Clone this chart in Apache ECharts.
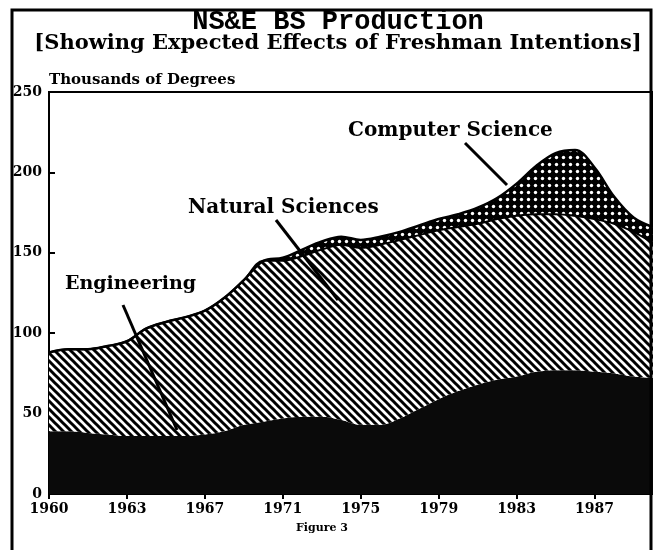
<!DOCTYPE html>
<html>
<head>
<meta charset="utf-8">
<script src="https://cdn.jsdelivr.net/npm/echarts@6/dist/echarts.min.js"></script>
<style>
html, body { margin: 0; padding: 0; background: #fff; }
#main { width: 653px; height: 550px; }
</style>
</head>
<body>
<div id="main"></div>
<script>
// years on the axis (first tick is printed as 1960 in the original)
var years = ['1959','1960','1961','1962','1963','1964','1965','1966','1967','1968','1969',
  '1970','1971','1972','1973','1974','1975','1976','1977','1978','1979','1980',
  '1981','1982','1983','1984','1985','1986','1987','1988','1989','1990'];
var tickLabels = ['1960','1963','1967','1971','1975','1979','1983','1987'];

// thousands of degrees, stacked
var engineering = [39,39,38,37,36,36,36,36,37,39,43,45,47,48,48,46,43,43,47,53,59,64,68,71,73,76,77,77,76,75,73,72];
var naturalSci  = [49,51,52,55,59,67,71,74,77,83,90,100,98,100,104,109,110,112,111,108,105,102,100,100,100,98,97,96,95,93,90,84];
var computerSci = [0,0,0,0,0,0,0,0,0,0,0,0,2,4,5,5,5,5,5,6,7,8,10,13,20,30,38,41,32,17,9,10];

// fill patterns
function hatch() {
  var c = document.createElement('canvas');
  c.width = 8; c.height = 8;
  var ctx = c.getContext('2d');
  ctx.fillStyle = '#fff';
  ctx.fillRect(0, 0, 8, 8);
  ctx.strokeStyle = '#000';
  ctx.lineWidth = 3;
  for (var k = -1; k <= 1; k++) {
    ctx.beginPath();
    ctx.moveTo(k * 8 - 2, -2);
    ctx.lineTo(k * 8 + 10, 10);
    ctx.stroke();
  }
  return c;
}
function dots() {
  var c = document.createElement('canvas');
  c.width = 7; c.height = 7;
  var ctx = c.getContext('2d');
  ctx.fillStyle = '#000';
  ctx.fillRect(0, 0, 7, 7);
  ctx.fillStyle = '#fff';
  ctx.beginPath();
  ctx.arc(3.5, 3.5, 1.7, 0, Math.PI * 2);
  ctx.fill();
  return c;
}

var serif = '"DejaVu Serif", serif';
var chartDom = document.getElementById('main');
var myChart = echarts.init(chartDom);
var option;

option = {
  animation: false,
  backgroundColor: '#fff',
  title: {
    text: 'NS&E BS Production',
    subtext: '[Showing Expected Effects of Freshman Intentions]',
    left: 333,
    textAlign: 'center',
    top: 4,
    itemGap: -3,
    textStyle: {
      fontFamily: '"Liberation Mono", monospace',
      fontSize: 27,
      fontWeight: 'bold',
      color: '#000'
    },
    subtextStyle: {
      fontFamily: serif,
      fontSize: 21,
      fontWeight: 'bold',
      color: '#000'
    }
  },
  grid: {
    left: 49,
    top: 92,
    width: 605,
    height: 402,
    show: true,
    borderColor: '#000',
    borderWidth: 2
  },
  xAxis: {
    type: 'category',
    boundaryGap: false,
    data: years,
    axisLine: { lineStyle: { color: '#000', width: 2 } },
    axisTick: { interval: 3, length: 5, lineStyle: { color: '#000', width: 2 } },
    axisLabel: {
      interval: 3,
      margin: 8,
      color: '#000',
      fontFamily: serif,
      fontWeight: 'bold',
      fontSize: 14,
      formatter: function (val, idx) { return tickLabels[idx / 4]; }
    },
    splitLine: { show: false }
  },
  yAxis: {
    type: 'value',
    min: 0,
    max: 250,
    interval: 50,
    name: 'Thousands of Degrees',
    nameLocation: 'end',
    nameGap: 4,
    nameTextStyle: {
      align: 'left',
      color: '#000',
      fontFamily: serif,
      fontWeight: 'bold',
      fontSize: 15
    },
    axisLine: { show: true, lineStyle: { color: '#000', width: 2 } },
    axisTick: { show: true, inside: true, length: 6, lineStyle: { color: '#000', width: 2 } },
    axisLabel: {
      margin: 7,
      color: '#000',
      fontFamily: serif,
      fontWeight: 'bold',
      fontSize: 14
    },
    splitLine: { show: false }
  },
  series: [
    {
      name: 'Engineering',
      type: 'line',
      stack: 'total',
      smooth: 0.35,
      symbol: 'none',
      lineStyle: { width: 0 },
      areaStyle: { color: '#0a0a0a', opacity: 1 },
      data: engineering
    },
    {
      name: 'Natural Sciences',
      type: 'line',
      stack: 'total',
      smooth: 0.35,
      symbol: 'none',
      lineStyle: { color: '#000', width: 2 },
      areaStyle: { color: { image: hatch(), repeat: 'repeat' }, opacity: 1 },
      data: naturalSci
    },
    {
      name: 'Computer Science',
      type: 'line',
      stack: 'total',
      smooth: 0.35,
      symbol: 'none',
      lineStyle: { color: '#000', width: 2.5 },
      areaStyle: { color: { image: dots(), repeat: 'repeat' }, opacity: 1 },
      data: computerSci
    }
  ],
  graphic: [
    {
      type: 'rect',
      shape: { x: 12, y: 10, width: 639, height: 560 },
      style: { fill: 'none', stroke: '#000', lineWidth: 3 },
      z: 100
    },
    // labels with pointers
    {
      type: 'text',
      style: { text: 'Engineering', x: 65, y: 284, font: 'bold 19px ' + serif, fill: '#000', align: 'left', verticalAlign: 'middle', textAlign: 'left', textVerticalAlign: 'middle' },
      z: 100
    },
    {
      type: 'line',
      shape: { x1: 123, y1: 305, x2: 177, y2: 430 },
      style: { stroke: '#000', lineWidth: 3 },
      z: 100
    },
    {
      type: 'text',
      style: { text: 'Natural Sciences', x: 188, y: 208, font: 'bold 20px ' + serif, fill: '#000', align: 'left', verticalAlign: 'middle', textAlign: 'left', textVerticalAlign: 'middle' },
      z: 100
    },
    {
      type: 'line',
      shape: { x1: 276, y1: 220, x2: 338, y2: 300 },
      style: { stroke: '#000', lineWidth: 3 },
      z: 100
    },
    {
      type: 'text',
      style: { text: 'Computer Science', x: 348, y: 131, font: 'bold 20px ' + serif, fill: '#000', align: 'left', verticalAlign: 'middle', textAlign: 'left', textVerticalAlign: 'middle' },
      z: 100
    },
    {
      type: 'line',
      shape: { x1: 465, y1: 143, x2: 507, y2: 185 },
      style: { stroke: '#000', lineWidth: 3 },
      z: 100
    },
    {
      type: 'text',
      style: { text: 'Figure 3', x: 322, y: 528, font: 'bold 11px ' + serif, fill: '#000', align: 'center', verticalAlign: 'middle', textAlign: 'center', textVerticalAlign: 'middle' },
      z: 100
    }
  ]
};
option && myChart.setOption(option);
</script>
</body>
</html>
